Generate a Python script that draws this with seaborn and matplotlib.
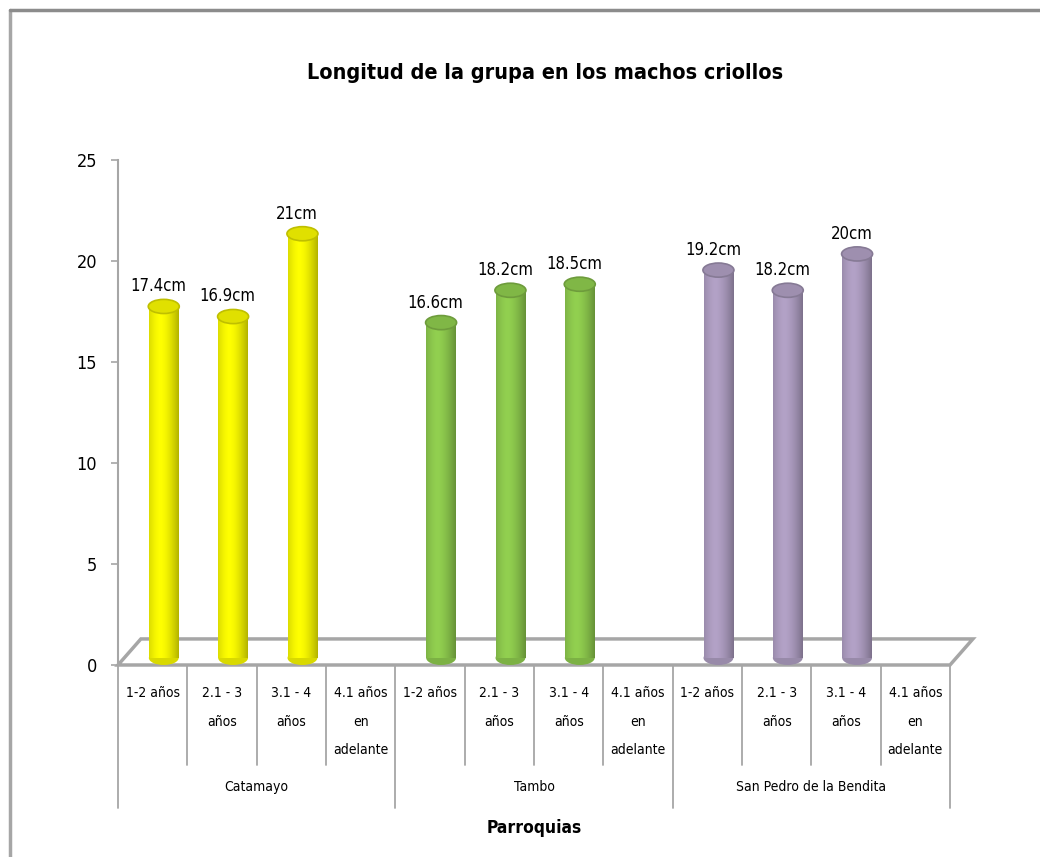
import numpy as np
import pandas as pd
import seaborn as sns
from matplotlib import pyplot as plt
from matplotlib.patches import Ellipse, Polygon, Rectangle
from matplotlib.lines import Line2D
from matplotlib.colors import to_rgb

parroquias = ['Catamayo', 'Tambo', 'San Pedro de la Bendita']
edades = ['1-2 años', '2.1 - 3\naños', '3.1 - 4\naños', '4.1 años\nen\nadelante']
catamayo = [17.4, 16.9, 21, None]
tambo = [16.6, 18.2, 18.5, None]
san_pedro = [19.2, 18.2, 20, None]
colores = ['#FFFF00', '#92D050', '#B3A2C7']

valores = [catamayo, tambo, san_pedro]
slots = [p + '|' + e for p in parroquias for e in edades]
filas = []
for p, vals in zip(parroquias, valores):
    for e, v in zip(edades, vals):
        if v is not None:
            filas.append({'slot': p + '|' + e, 'parroquia': p, 'valor': v})
df = pd.DataFrame(filas)

sns.set_style('white')
plt.rcParams['font.family'] = ['DejaVu Sans']
plt.rcParams['font.stretch'] = 'condensed'
plt.rcParams['text.color'] = 'black'

fig = plt.figure(figsize=(10.4, 8.57), dpi=100)
ax = fig.add_axes([118 / 1040, 192 / 857, 832 / 1040, 505 / 857])

gris = '#A6A6A6'

sns.barplot(data=df, x='slot', y='valor', hue='parroquia', order=slots,
            hue_order=parroquias, palette=colores, dodge=False, width=0.43,
            saturation=1, legend=False, ax=ax, zorder=2)

# piso 3D
ax.add_patch(Polygon([(-0.5, 0), (11.5, 0), (11.83, 1.29), (-0.17, 1.29)],
                     closed=True, facecolor='white', edgecolor=gris, lw=2.5,
                     zorder=1, clip_on=False))

eh = 0.7  # alto de la elipse (cilindro)
lift = 0.35
t = np.linspace(0, 1, 80)
f = 1 - 0.3 * (np.abs(t - 0.38) / 0.62) ** 1.6
barras = [p for p in ax.patches if isinstance(p, Rectangle) and p.get_height() > 0]
for bar in barras:
    bar.set_x(bar.get_x() + 0.16)
    bar.set_y(lift)
    bar.set_edgecolor('none')
    base = np.array(to_rgb(bar.get_facecolor()))
    x0, w, h = bar.get_x(), bar.get_width(), bar.get_height()
    img = np.clip(base[None, None, :] * f[None, :, None], 0, 1)
    ax.add_patch(Ellipse((x0 + w / 2, lift), w, eh, facecolor=base * 0.85,
                         edgecolor='none', zorder=2))
    im = ax.imshow(img, extent=[x0, x0 + w, lift, lift + h], aspect='auto', zorder=2.5)
    im.set_clip_path(bar)
    ax.add_patch(Ellipse((x0 + w / 2, lift + h), w * 1.04, eh, facecolor=base * 0.88,
                         edgecolor=base * 0.75, lw=1.2, zorder=3))
    ax.text(x0 + w / 2 - 0.08, lift + h + eh / 2 + 0.2, f'{h:g}cm', ha='center',
            va='bottom', fontsize=12, zorder=4)

ax.set_xlim(-0.5, 11.5)
ax.set_ylim(0, 25)
ax.set_xticks([])
ax.set_xlabel('')
ax.set_ylabel('')
ax.set_yticks([0, 5, 10, 15, 20, 25])
ax.tick_params(axis='y', direction='out', length=5, width=1.2, color=gris,
               labelsize=13, labelcolor='black', pad=10, left=True)
for s in ['top', 'right', 'bottom']:
    ax.spines[s].set_visible(False)
ax.spines['left'].set_color(gris)
ax.spines['left'].set_linewidth(1.5)

# etiquetas de categorias jerarquicas
for k in range(13):
    fondo = -7.1 if k % 4 == 0 else -4.95
    ax.plot([k - 0.5, k - 0.5], [0, fondo], color=gris, lw=1.3, clip_on=False)
for i, s in enumerate(slots):
    ax.text(i, -1.05, s.split('|')[1], ha='center', va='top', fontsize=10,
            linespacing=2.3, clip_on=False)
for j, p in enumerate(parroquias):
    ax.text(4 * j + 1.5, -6.04, p, ha='center', va='center', fontsize=10, clip_on=False)
ax.text(5.5, -8.07, 'Parroquias', ha='center', va='center', fontsize=12.5,
        fontweight='bold', clip_on=False)

fig.text(0.524, 1 - 73 / 857, 'Longitud de la grupa en los machos criollos',
         ha='center', va='center', fontsize=15.5, fontweight='bold')

# borde del grafico
fig.add_artist(Line2D([10 / 1040, 10 / 1040], [0, 1 - 10 / 857], color=gris, lw=2.5,
                      transform=fig.transFigure))
fig.add_artist(Line2D([10 / 1040, 1], [1 - 10 / 857, 1 - 10 / 857], color='#8c8c8c', lw=2.5,
                      transform=fig.transFigure))

fig.savefig('out.png', dpi=100)
